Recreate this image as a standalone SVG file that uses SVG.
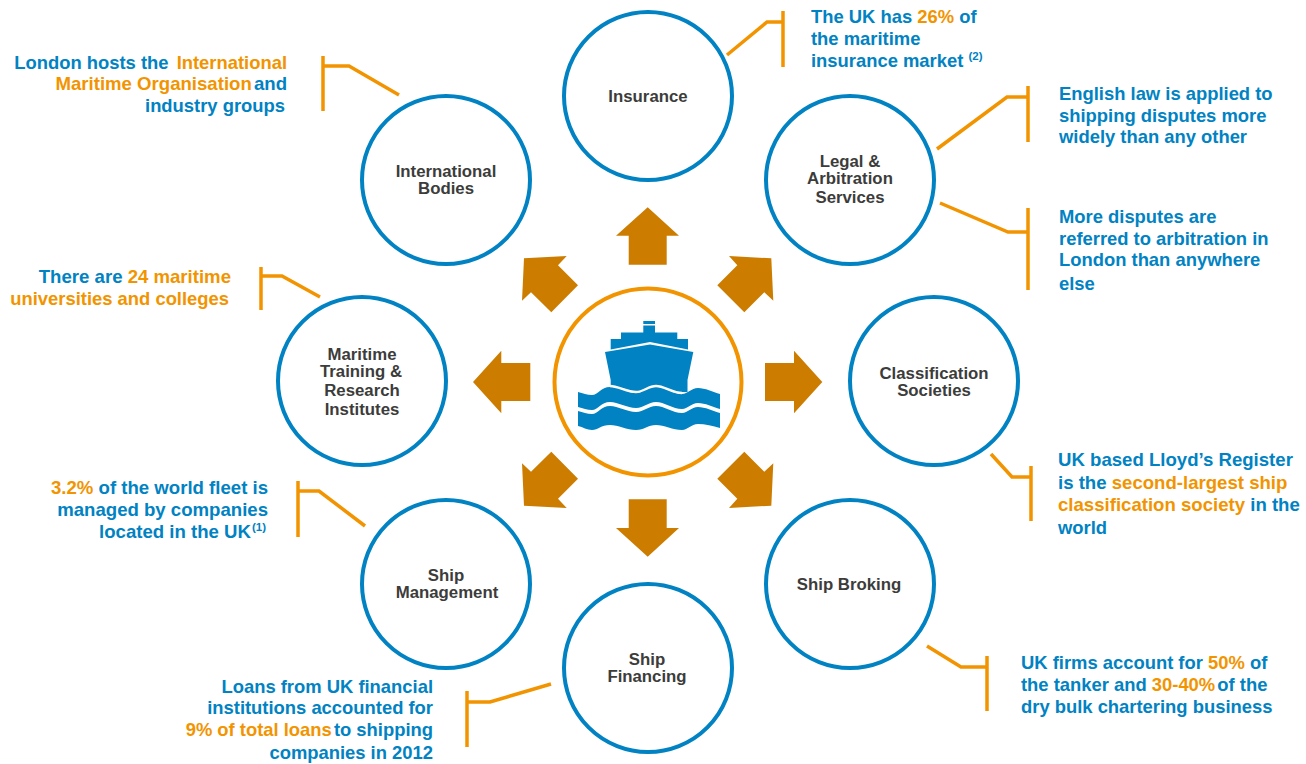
<svg xmlns="http://www.w3.org/2000/svg" width="1306" height="764" viewBox="0 0 1306 764">
<style>
.n{fill:#fff;stroke:#0082c3;stroke-width:4}
.nt{font:bold 16.8px "Liberation Sans",Arial,sans-serif;fill:#3c3c3b;text-anchor:middle}
.t{font:bold 18.4px "Liberation Sans",Arial,sans-serif;fill:#0082c3}
.w{font-size:18.6px}
.e{text-anchor:end}
.o{fill:#f29400}
.sup{font-size:11.5px}
.l{fill:none;stroke:#f29400;stroke-width:3.5}
.a{fill:#cc7d00}
.s{fill:#0082c3}
</style>
<rect width="1306" height="764" fill="#fff"/>
<g id="connectors">
<path class="l" d="M727,55L767,22H783M783,11V67"/>
<path class="l" d="M937,149L1007,97H1028M1028,86V142"/>
<path class="l" d="M940,203L1008,232H1028M1028,208V290"/>
<path class="l" d="M991,454L1012,477H1031M1031,466V521"/>
<path class="l" d="M927,646L961,667H987M987,656V711"/>
<path class="l" d="M551,684L490,702H467M467,691V747"/>
<path class="l" d="M365,526L319,491H298M298,481V537"/>
<path class="l" d="M320,297L282,276H261M261,267V310"/>
<path class="l" d="M399,95L349,66H323M323,56V111"/>
<polygon class="a" points="647.7,207.3 679,235.7 666.7,235.7 666.7,264.7 628.7,264.7 628.7,235.7 616,235.7"/>
<polygon class="a" points="647.7,556.7 679,528 666.7,528 666.7,499.3 628.7,499.3 628.7,528 616,528"/>
<polygon class="a" points="822.3,382 794,413.3 794,401 765,401 765,363 794,363 794,350.7"/>
<polygon class="a" points="473,382 501.3,413.3 501.3,401 530.3,401 530.3,363 501.3,363 501.3,350.7"/>
<polygon class="a" points="717.3,285.3 737.3,265.3 729,256 771.3,258.3 773.3,300.7 764.3,292.3 744.3,312.3"/>
<polygon class="a" points="578,285.3 558,265.3 566.7,256 524,258.3 522,300.7 531,292.3 551.3,312.3"/>
<polygon class="a" points="717.3,478.7 737.3,498.7 729,508 771.3,505.7 773.3,463.3 764.3,471.7 744.3,451.7"/>
<polygon class="a" points="578,478.7 558,498.7 566.7,508 524,505.7 522,463.3 531,471.7 551.3,451.7"/>
</g>
<g id="hub">
<circle cx="648" cy="382" r="93.5" fill="#fff" stroke="#f29400" stroke-width="4"/>
<path class="s" d="M643.3,321H655V324H643.3ZM643.3,325.5H655V332.5H677.3V339H688V349.5L650,342L610.7,349.5V339H621V332.5H643.3Z"/>
<path class="s" d="M605,352L650,344.5L693.3,352L687.5,380V392L610.7,392V380Z"/>
<path class="s" d="M578,392C583,393 587,395 592,395C598,395 601,387 610,387C618,387 627,393 636,393C644,393 648,387 656,387C664,387 673,394 682,394C688,394 691,388 698,388C705,388 713,392 720,394V409C713,407 705,403 698,403C691,403 688,409 682,409C673,409 664,402 656,402C648,402 644,408 636,408C627,408 618,402 610,402C601,402 598,410 592,410C587,410 583,408 578,407Z"/>
<path class="s" d="M578,411C583,412 587,414 592,414C598,414 601,406 610,406C618,406 627,412 636,412C644,412 648,406 656,406C664,406 673,413 682,413C688,413 691,407 698,407C705,407 713,411 720,413V428C713,426 705,424 698,424C691,424 688,430 682,430C673,430 664,425 656,425C648,425 644,430 636,430C627,430 618,425 610,425C601,425 598,430 592,430C587,430 583,427 578,426Z"/>
<path d="M610,386C618,386 627,392 636,392C644,392 648,386 656,386C664,386 673,393 682,393" fill="none" stroke="#fff" stroke-width="2.5"/>
</g>
<g id="insurance"><circle class="n" cx="648" cy="96" r="84"/><text class="nt" x="648" y="102">Insurance</text></g>
<g id="international-bodies"><circle class="n" cx="446" cy="180" r="84"/><text class="nt" x="446" y="177">International</text><text class="nt" x="446" y="194">Bodies</text></g>
<g id="legal"><circle class="n" cx="850" cy="180" r="84"/><text class="nt" x="850" y="167">Legal &amp;</text><text class="nt" x="850" y="184">Arbitration</text><text class="nt" x="850" y="203">Services</text></g>
<g id="classification"><circle class="n" cx="934" cy="381" r="84"/><text class="nt" x="934" y="379">Classification</text><text class="nt" x="934" y="396">Societies</text></g>
<g id="ship-broking"><circle class="n" cx="850" cy="584" r="84"/><text class="nt" x="849" y="590">Ship Broking</text></g>
<g id="ship-financing"><circle class="n" cx="648" cy="668" r="84"/><text class="nt" x="647" y="665">Ship</text><text class="nt" x="647" y="682">Financing</text></g>
<g id="ship-management"><circle class="n" cx="446" cy="584" r="84"/><text class="nt" x="446" y="581">Ship</text><text class="nt" x="447" y="598">Management</text></g>
<g id="maritime-training"><circle class="n" cx="362" cy="381" r="84"/><text class="nt" x="362" y="360">Maritime</text><text class="nt" x="361" y="377">Training &amp;</text><text class="nt" x="362" y="396">Research</text><text class="nt" x="362" y="415">Institutes</text></g>
<g id="notes">
<text class="t" x="811" y="23">The UK has <tspan class="o">26%</tspan> of</text>
<text class="t" x="811" y="45">the maritime</text>
<text class="t" x="811" y="67">insurance market <tspan class="sup" dy="-7">(2)</tspan></text>
<text class="t" x="1059" y="100">English law is applied to</text>
<text class="t" x="1059" y="122">shipping disputes more</text>
<text class="t" x="1059" y="143">widely than any other</text>
<text class="t" x="1059" y="223">More disputes are</text>
<text class="t" x="1059" y="245">referred to arbitration in</text>
<text class="t" x="1059" y="266">London than anywhere</text>
<text class="t" x="1059" y="290">else</text>
<text class="t w" x="1058" y="466">UK based Lloyd’s Register</text>
<text class="t w" x="1058" y="489">is the <tspan class="o">second-largest ship</tspan></text>
<text class="t w" x="1058" y="511"><tspan class="o">classification society</tspan> in the</text>
<text class="t" x="1058" y="534">world</text>
<text class="t" x="1021" y="669">UK firms account for <tspan class="o">50%</tspan> of</text>
<text class="t" x="1021" y="691">the tanker and <tspan class="o">30-40%</tspan><tspan dx="-3"> of the</tspan></text>
<text class="t" x="1021" y="713">dry bulk chartering business</text>
<text class="t e" x="433" y="693">Loans from UK financial</text>
<text class="t e" x="433" y="714">institutions accounted for</text>
<text class="t e" x="433" y="736"><tspan class="o">9% of total loans</tspan><tspan dx="-3"> to shipping</tspan></text>
<text class="t e" x="433" y="759">companies in 2012</text>
<text class="t e w" x="268" y="494"><tspan class="o">3.2%</tspan> of the world fleet is</text>
<text class="t e w" x="268" y="516">managed by companies</text>
<text class="t e w" x="266" y="538">located in the UK<tspan class="sup" dx="1" dy="-7">(1)</tspan></text>
<text class="t e w" x="231" y="283">There are <tspan class="o">24 maritime</tspan></text>
<text class="t e o" x="229" y="305">universities and colleges</text>
<text class="t e" x="287" y="69">London hosts the<tspan class="o" dx="3"> International</tspan></text>
<text class="t e w" x="287" y="90"><tspan class="o">Maritime Organisation</tspan><tspan dx="-3"> and</tspan></text>
<text class="t e" x="285" y="112">industry groups</text>
</g>
</svg>
